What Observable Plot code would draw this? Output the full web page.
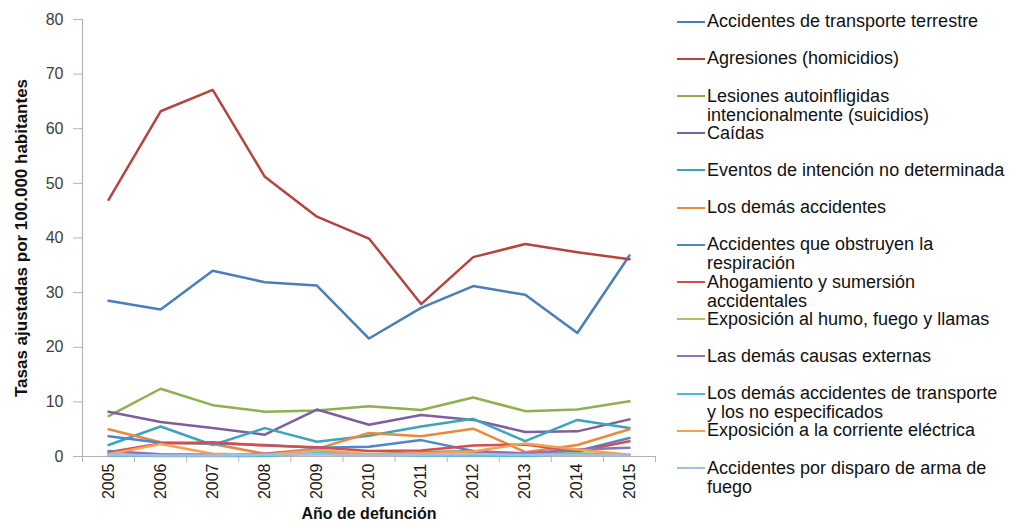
<!DOCTYPE html>
<html>
<head>
<meta charset="utf-8">
<script src="https://cdn.jsdelivr.net/npm/d3@7"></script>
<script src="https://cdn.jsdelivr.net/npm/@observablehq/plot@0.6"></script>
<style>
  html, body { margin: 0; padding: 0; background: #fff; }
  #wrap { position: relative; width: 1014px; height: 522px; font-family: "Liberation Sans", Arial, sans-serif; }
  #legend .sw { position: absolute; height: 0; width: 28px; }
  #legend .lb { position: absolute; font-size: 18px; line-height: 19px; white-space: pre; color: #111; }
</style>
</head>
<body>
<div id="wrap"><div id="chart"></div><div id="legend"></div></div>
<script>
const years = [2005, 2006, 2007, 2008, 2009, 2010, 2011, 2012, 2013, 2014, 2015];

const seriesNames = [
  "Accidentes de transporte terrestre",
  "Agresiones (homicidios)",
  "Lesiones autoinfligidas\nintencionalmente (suicidios)",
  "Caídas",
  "Eventos de intención no determinada",
  "Los demás accidentes",
  "Accidentes que obstruyen la\nrespiración",
  "Ahogamiento y sumersión\naccidentales",
  "Exposición al humo, fuego y llamas",
  "Las demás causas externas",
  "Los demás accidentes de transporte\ny los no especificados",
  "Exposición a la corriente eléctrica",
  "Accidentes por disparo de arma de\nfuego"
];

const seriesColors = [
  "#4a7ebb", "#b5443f", "#8fb04f", "#7d5fa0", "#40a3bd", "#e8893d", "#4f87cc",
  "#d34f4c", "#a3c763", "#9072b5", "#4dbad8", "#f8a050", "#a6bddb"
];

const transporteTerrestre = [28.5, 26.9, 34.0, 31.9, 31.3, 21.6, 27.2, 31.2, 29.6, 22.6, 36.8];
const agresiones          = [47.0, 63.2, 67.1, 51.2, 43.9, 39.9, 27.9, 36.5, 38.9, 37.4, 36.1];
const suicidios           = [7.4, 12.4, 9.4, 8.2, 8.4, 9.2, 8.5, 10.8, 8.3, 8.6, 10.1];
const caidas              = [8.2, 6.3, 5.2, 4.0, 8.6, 5.8, 7.6, 6.7, 4.5, 4.6, 6.8];
const intencionNoDet      = [2.1, 5.5, 2.1, 5.2, 2.7, 3.8, 5.5, 6.9, 2.8, 6.7, 5.2];
const demasAccidentes     = [5.0, 2.6, 2.3, 0.5, 1.4, 4.3, 3.7, 5.1, 0.8, 2.1, 5.0];
const obstruyenResp       = [3.7, 2.5, 2.4, 2.1, 1.6, 1.8, 3.0, 1.0, 0.5, 1.0, 3.4];
const ahogamiento         = [0.8, 2.4, 2.6, 2.0, 1.7, 1.0, 1.1, 2.0, 2.2, 0.9, 2.8];
const humoFuego           = [0.4, 0.3, 0.3, 0.3, 0.5, 0.4, 0.8, 1.0, 0.3, 0.6, 0.3];
const demasCausas         = [1.0, 0.4, 0.3, 0.5, 1.2, 0.3, 0.8, 0.9, 0.6, 1.3, 1.6];
const demasTransporte     = [0.2, 0.1, 0.1, 0.1, 0.6, 0.4, 0.2, 0.2, 0.1, 0.5, 0.2];
const corrienteElectrica  = [0.4, 2.3, 0.5, 0.3, 1.2, 0.4, 0.6, 0.9, 2.4, 1.3, 0.3];
const armaFuego           = [0.3, 0.2, 0.2, 0.3, 0.4, 0.2, 0.3, 0.4, 0.3, 0.3, 0.2];

const seriesValues = [
  transporteTerrestre, agresiones, suicidios, caidas, intencionNoDet, demasAccidentes,
  obstruyenResp, ahogamiento, humoFuego, demasCausas, demasTransporte, corrienteElectrica, armaFuego
];

const yTicks = [0, 10, 20, 30, 40, 50, 60, 70, 80];
const yTitle = "Tasas ajustadas por 100.000 habitantes";
const xTitle = "Año de defunción";

const data = [];
seriesValues.forEach((vals, s) => {
  vals.forEach((v, i) => data.push({serie: s, year: years[i], value: v}));
});
const bounds = years.map(y => y - 0.5).concat([years[years.length - 1] + 0.5]);

const chart = Plot.plot({
  width: 1014,
  height: 522,
  marginLeft: 82,
  marginRight: 359,
  marginTop: 19,
  marginBottom: 66,
  style: {fontFamily: "'Liberation Sans', Arial, sans-serif", background: "#fff"},
  x: {type: "linear", domain: [bounds[0], bounds[bounds.length - 1]], axis: null},
  y: {domain: [0, 80], axis: null},
  marks: [
    Plot.ruleY([0], {stroke: "#b3b3b3", strokeWidth: 1.2}),
    Plot.ruleX([bounds[0]], {stroke: "#b3b3b3", strokeWidth: 1.2}),
    Plot.axisY({ticks: yTicks, tickSize: 9, tickPadding: 10, stroke: "#b3b3b3", fill: "#404040", fontSize: 16, label: null}),
    Plot.axisX({ticks: bounds, tickSize: 6, tickFormat: () => "", stroke: "#b3b3b3", label: null}),
    Plot.axisX({ticks: years, tickSize: 0, tickPadding: 7, tickRotate: -90, tickFormat: d => String(d), fill: "#1a1a1a", fontSize: 16, label: null}),
    ...seriesValues.map((vals, s) => Plot.line(data.filter(d => d.serie === s), {
      x: "year", y: "value", stroke: seriesColors[s], strokeWidth: 2.5, curve: "linear"
    })),
    Plot.text([yTitle], {frameAnchor: "left", dx: -61, rotate: -90, fontSize: 17, fontWeight: "bold", fill: "#111", textAnchor: "middle"}),
    Plot.text([xTitle], {frameAnchor: "bottom", dy: 62, fontSize: 16, fontWeight: "bold", fill: "#111"})
  ]
});
document.getElementById("chart").appendChild(chart);

const legend = document.getElementById("legend");
seriesNames.forEach((name, i) => {
  const cy = 21.7 + i * 37.2;
  const sw = document.createElement("div");
  sw.className = "sw";
  sw.style.left = "677px";
  sw.style.top = (cy - 1.2) + "px";
  sw.style.borderTop = "2.4px solid " + seriesColors[i];
  legend.appendChild(sw);
  const lb = document.createElement("div");
  lb.className = "lb";
  lb.style.left = "707px";
  lb.style.top = (cy - 9.5) + "px";
  lb.textContent = name;
  legend.appendChild(lb);
});
</script>
</body>
</html>
